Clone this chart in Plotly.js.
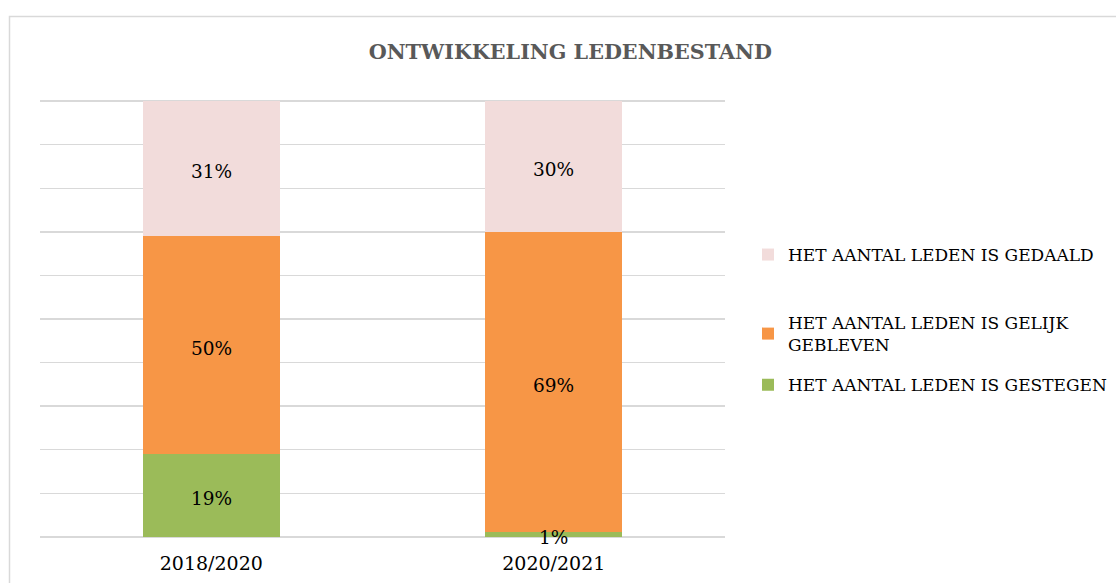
<!DOCTYPE html>
<html>
<head>
<meta charset="utf-8">
<script src="https://cdn.plot.ly/plotly-3.0.1.min.js"></script>
<style>html,body{margin:0;padding:0;background:#fff;}#chart{width:1116px;height:583px;}</style>
</head>
<body>
<div id="chart"></div>
<script>
const categories = ["2018/2020", "2020/2021"];
const seriesNames = ["HET AANTAL LEDEN IS GESTEGEN", "HET AANTAL LEDEN IS GELIJK<br>GEBLEVEN", "HET AANTAL LEDEN IS GEDAALD"];
const gestegen = [19, 1];
const gelijk = [50, 69];
const gedaald = [31, 30];
const colors = ["#9BBB59", "#F79646", "#F2DCDB"];
const FONT = "DejaVu Serif, Liberation Serif, serif";

const series = [gestegen, gelijk, gedaald];
const legendOf = ["legend2", "legend2", "legend"];
const rankOf = [3, 2, 1];
const traces = series.map((vals, i) => ({
  type: "bar",
  name: seriesNames[i],
  legend: legendOf[i],
  legendgroup: "g" + i,
  legendrank: rankOf[i],
  x: categories,
  y: vals,
  marker: {color: colors[i], line: {width: 0}},
  hoverinfo: "skip"
}));

// data labels at the middle of each stacked segment
const annotations = [];
categories.forEach((c, ci) => {
  let base = 0;
  series.forEach(vals => {
    annotations.push({
      x: c, y: base + vals[ci] / 2, xref: "x", yref: "y",
      text: vals[ci] + "%", showarrow: false, yshift: -3,
      font: {family: FONT, size: 18.5, color: "#000"}
    });
    base += vals[ci];
  });
});

const legendBase = {
  xref: "container", yref: "container", xanchor: "left", yanchor: "middle",
  font: {family: FONT, size: 17, color: "#000"},
  itemwidth: 30, bgcolor: "rgba(0,0,0,0)", traceorder: "grouped"
};

const T = 99, B = 44, PH = 583 - T - B, L = 40, PW = 1116 - 40 - 391;

const layout = {
  width: 1116, height: 583,
  barmode: "stack",
  bargap: 0.6,
  paper_bgcolor: "#fff",
  plot_bgcolor: "#fff",
  margin: {l: L, r: 391, t: T, b: B},
  title: {text: "ONTWIKKELING LEDENBESTAND", x: 0.511, xanchor: "center", y: 0.912, yanchor: "middle",
          font: {family: FONT, size: 20.7, color: "#595959", weight: "bold"}},
  xaxis: {showgrid: false, zeroline: false, showline: false, ticks: "",
          tickfont: {family: FONT, size: 19, color: "#000"}, ticklabelstandoff: 11},
  yaxis: {range: [-0.5, 100.5], dtick: 10, tick0: 0, showticklabels: false, showgrid: true,
          gridcolor: "#D9D9D9", gridwidth: 1.5, zeroline: false, showline: false, fixedrange: true},
  legend: Object.assign({}, legendBase, {x: 748 / 1116, y: 1 - 255 / 583}),
  legend2: Object.assign({}, legendBase, {x: 748 / 1116, y: 1 - 354 / 583, tracegroupgap: 15}),
  showlegend: true,
  annotations: annotations,
  shapes: [{type: "rect", xref: "paper", yref: "paper",
            x0: (9.5 - L) / PW, x1: (1130 - L) / PW,
            y0: -(600 - (583 - B)) / PH, y1: 1 + (T - 16.5) / PH,
            line: {color: "#D9D9D9", width: 1.5}, fillcolor: "rgba(0,0,0,0)", layer: "below"}],
  font: {family: FONT}
};

Plotly.newPlot("chart", traces, layout, {displayModeBar: false, staticPlot: true});
</script>
</body>
</html>
